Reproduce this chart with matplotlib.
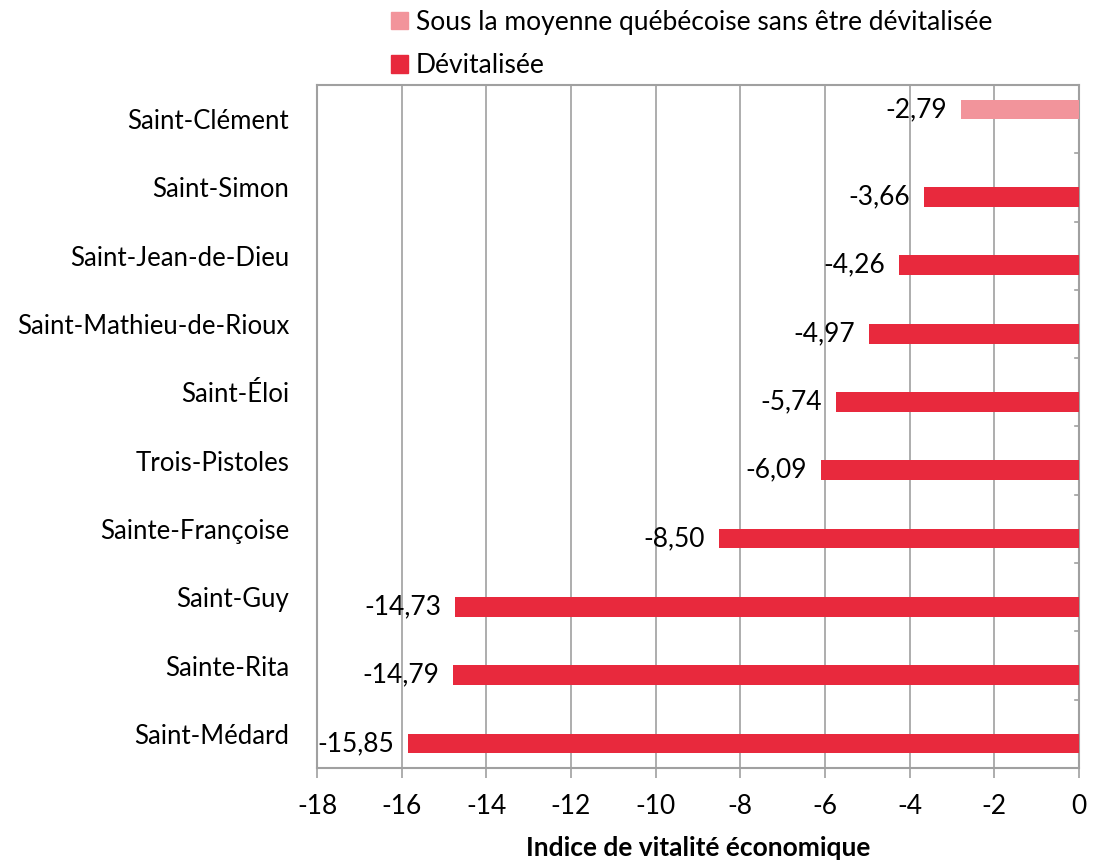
import matplotlib.pyplot as plt
import numpy as np

# data
communes = ['Saint-Clément', 'Saint-Simon', 'Saint-Jean-de-Dieu', 'Saint-Mathieu-de-Rioux',
            'Saint-Éloi', 'Trois-Pistoles', 'Sainte-Françoise', 'Saint-Guy',
            'Sainte-Rita', 'Saint-Médard']
indice = [-2.79, -3.66, -4.26, -4.97, -5.74, -6.09, -8.50, -14.73, -14.79, -15.85]
devitalisee = [False, True, True, True, True, True, True, True, True, True]

serie_sous = 'Sous la moyenne québécoise sans être dévitalisée'
serie_dev = 'Dévitalisée'
col_sous = '#F2949B'
col_dev = '#E8293D'
gris = '#A0A0A0'

plt.rcParams['font.family'] = ['Lato', 'DejaVu Sans']
plt.rcParams['font.size'] = 19

fig = plt.figure(figsize=(10.94, 8.67), dpi=100)
ax = fig.add_axes([317 / 1094, 1 - 768 / 867, (1079 - 317) / 1094, (768 - 85) / 867])

y = np.arange(len(communes))
h = 0.29
off = 0.14
for i, (v, d) in enumerate(zip(indice, devitalisee)):
    yy = y[i] + off if d else y[i] - off
    ax.barh(yy, v, height=h, color=col_dev if d else col_sous, zorder=3)
    ax.annotate(f'{v:.2f}'.replace('.', ','), (v, yy), xytext=(-10, 0),
                textcoords='offset points', ha='right', va='center', fontsize=19, zorder=4)

ax.set_xlim(-18, 0)
ax.set_ylim(len(communes) - 0.5, -0.5)
ax.set_xticks(np.arange(-18, 1, 2))
ax.set_xticklabels([str(t) for t in range(-18, 1, 2)])
ax.set_yticks(y)
ax.set_yticklabels(communes, fontsize=18.5)
ax.tick_params(axis='y', length=0, pad=20)
ax.tick_params(axis='x', length=7, color=gris, width=1.2, pad=12)

# small ticks on the zero line between categories
for b in np.arange(0.5, len(communes) - 1, 1):
    ax.plot([-0.1, 0], [b, b], color=gris, lw=1.2, zorder=2, clip_on=False)

ax.grid(axis='x', color=gris, lw=1.2, zorder=0)
for s in ax.spines.values():
    s.set_color(gris)
    s.set_linewidth(1.5)

ax.set_xlabel('Indice de vitalité économique', fontweight='bold', fontsize=19, labelpad=12)

hs = plt.Rectangle((0, 0), 1, 1, color=col_sous)
hd = plt.Rectangle((0, 0), 1, 1, color=col_dev)
fig.legend([hs, hd], [serie_sous, serie_dev], loc='upper left',
           bbox_to_anchor=(367 / 1094, 1.016), frameon=False, fontsize=19,
           handlelength=0.65, handleheight=0.65, handletextpad=0.3, labelspacing=0.7)

fig.savefig('out.png', dpi=100)
